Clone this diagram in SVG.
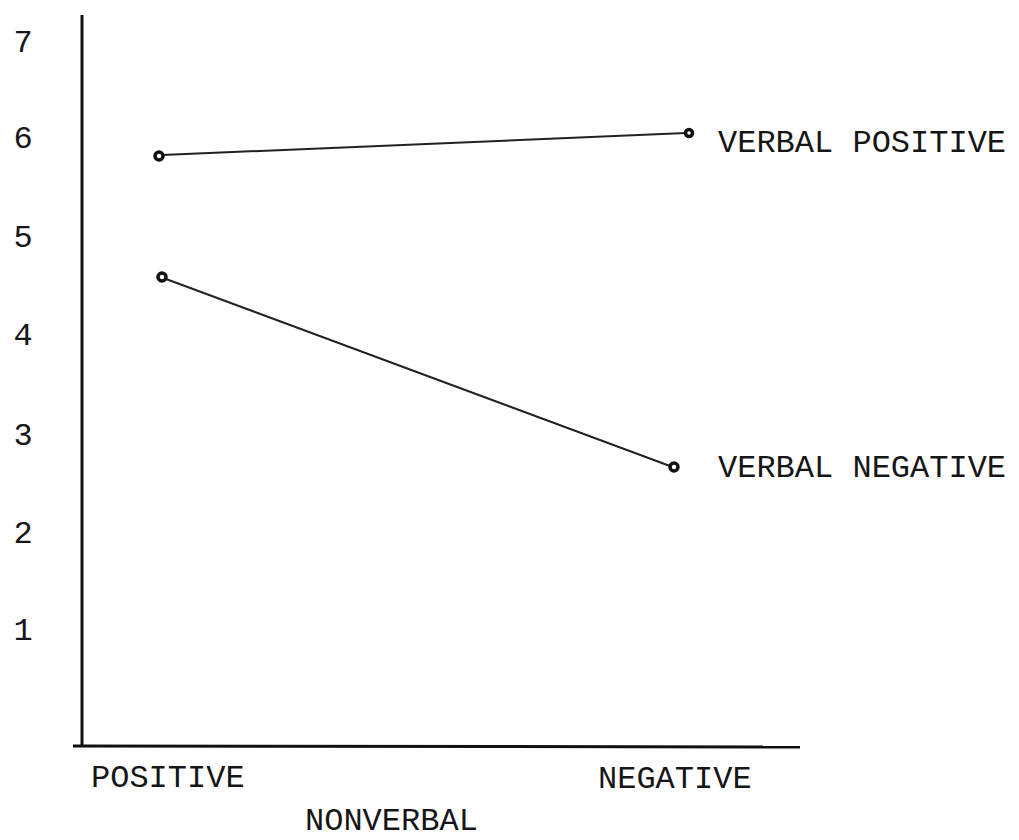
<svg xmlns="http://www.w3.org/2000/svg" width="1019" height="840" viewBox="0 0 1019 840">
<style>
text{font-family:"Liberation Mono","Courier New",monospace;font-size:32px;fill:#161616}
.tick{text-anchor:middle}
.axis{stroke:#111;stroke-width:3;fill:none}
.line{stroke:#222;stroke-width:2;fill:none}
.pt{fill:#fff;stroke:#111;stroke-width:3.5}
</style>
<rect width="1019" height="840" fill="#fff"/>
<g id="axes">
<line class="axis" x1="82" y1="15" x2="82" y2="747"/>
<line class="axis" x1="73" y1="746" x2="800" y2="747"/>
</g>
<g id="y-ticks">
<text class="tick" x="23" y="52">7</text>
<text class="tick" x="23" y="148">6</text>
<text class="tick" x="23" y="247">5</text>
<text class="tick" x="23" y="345">4</text>
<text class="tick" x="23" y="445">3</text>
<text class="tick" x="23" y="543">2</text>
<text class="tick" x="23" y="640">1</text>
</g>
<g id="connectors">
<line class="line" x1="162" y1="155" x2="686" y2="133"/>
<line class="line" x1="166" y1="279" x2="670" y2="466"/>
</g>
<g id="verbal-positive">
<circle class="pt" cx="159" cy="156" r="4"/>
<circle class="pt" cx="689" cy="133" r="3.5"/>
<text x="718" y="152">VERBAL POSITIVE</text>
</g>
<g id="verbal-negative">
<circle class="pt" cx="162" cy="277" r="4"/>
<circle class="pt" cx="674" cy="467" r="4"/>
<text x="718" y="477">VERBAL NEGATIVE</text>
</g>
<g id="x-labels">
<text x="91" y="787">POSITIVE</text>
<text x="598" y="788">NEGATIVE</text>
<text x="305" y="830">NONVERBAL</text>
</g>
</svg>
